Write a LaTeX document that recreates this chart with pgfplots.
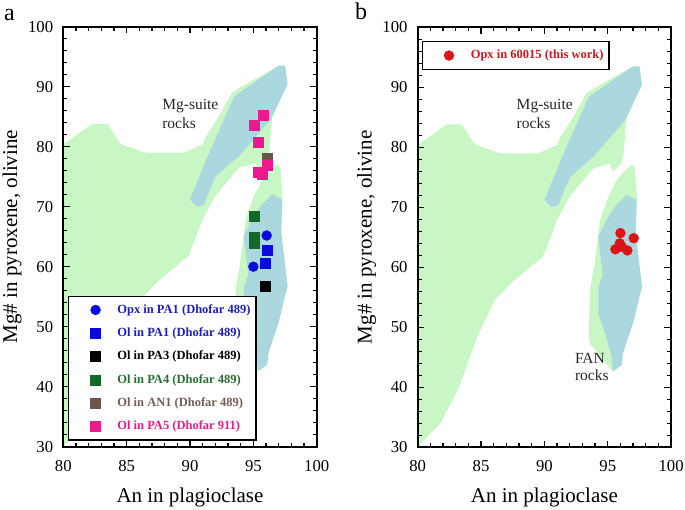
\documentclass[border=0pt]{standalone}
\usepackage{fontspec}
\setmainfont{Liberation Serif}
\usepackage{pgfplots}
\usepackage{pgfplotstable}
\pgfplotsset{compat=1.18}

\definecolor{regG}{RGB}{200,246,196}
\definecolor{regB}{RGB}{170,216,222}
\definecolor{cblue}{RGB}{10,10,220}
\definecolor{cgreen}{RGB}{20,105,40}
\definecolor{cbrown}{RGB}{110,85,75}
\definecolor{cpink}{RGB}{238,25,140}
\definecolor{cred}{RGB}{220,20,25}
\definecolor{tblue}{RGB}{30,30,180}
\definecolor{tgreen}{RGB}{40,110,50}
\definecolor{tbrown}{RGB}{115,95,85}
\definecolor{tpink}{RGB}{225,30,140}
\definecolor{tred}{RGB}{200,25,30}
\definecolor{ctext}{RGB}{38,38,38}

% large green field
\pgfplotstableread{
x y
80 30
80 80.4
82.3 83.8
83.5 83.8
84.5 80.5
86.5 79.0
89.5 79.0
91.0 80.4
91.2 81.5
92.3 85.1
93.3 89.0
93.9 89.8
97.0 93.5
97.5 93.5
97.7 90.4
96.5 85.0
96.4 83.0
96.25 78.7
96.1 77.3
95.4 75.9
95.18 77.3
94.4 76.8
93.86 76.5
92.0 71.8
91.0 67.9
89.9 61.8
87.5 57.6
86.1 54.6
84.7 48.4
83.3 40.2
81.8 34.0
80.4 31.0
80 30
}\regGa

% green field around FAN
\pgfplotstableread{
x y
96.9 77.05
97.15 76.5
97.3 71.8
97.2 65.0
97.7 56.8
96.2 45.7
95.4 42.6
93.6 47.3
93.5 47.9
93.6 56.2
94.0 61.2
94.4 67.9
95.05 71.8
95.7 74.5
96.36 76.2
96.9 77.05
}\regGb

% blue Mg-suite field
\pgfplotstableread{
x y
90.0 71.2
90.6 70.0
91.1 70.4
92.0 75.0
93.9 78.5
95.7 82.9
96.4 84.6
97.7 90.4
97.5 93.5
97.0 93.5
93.5 88.4
92.8 85.1
91.4 78.4
90.0 71.2
}\regBa

% blue FAN field
\pgfplotstableread{
x y
96.5 72.05
97.28 71.2
97.2 65.7
97.7 56.8
97.0 50.7
96.2 45.7
96.1 43.7
95.4 42.6
95.3 45.1
94.8 49.0
94.25 52.3
94.25 56.5
94.6 58.8
94.25 65.1
94.9 67.9
95.57 70.1
96.5 72.05
}\regBb

\tikzset{
  leg/.style={draw=black, line width=1.2bp, fill=white,
    inner xsep=1.5bp, inner ysep=2bp, row sep=0pt,
    nodes={inner xsep=4bp, inner ysep=5bp, text height=10bp, text depth=3.3bp},
    font=\fontsize{12.5bp}{15bp}\selectfont\bfseries},
  lbl/.style={anchor=base west, inner sep=0pt, text=ctext, font=\fontsize{15.5bp}{18bp}\selectfont},
}

\pgfplotsset{
  panel/.style={
    scale only axis, width=253.4bp, height=420bp,
    xmin=80, xmax=100, ymin=30, ymax=100,
    enlargelimits=false,
    xtick={80,85,...,100}, ytick={30,40,...,100},
    minor x tick num=4, minor y tick num=4,
    tick align=inside,
    major tick length=6.7bp, minor tick length=4bp,
    every tick/.style={black, line width=1.4bp},
    axis line style={line width=1.8bp},
    axis on top,
    /pgf/number format/assume math mode=true,
    tick label style={font=\fontsize{16.7bp}{20bp}\selectfont},
    xticklabel style={anchor=base, yshift=-24.3bp},
    yticklabel style={anchor=east, inner sep=0pt, xshift=-10bp},
    label style={font=\fontsize{21bp}{25bp}\selectfont},
    xlabel={An in plagioclase},
    ylabel={Mg\# in pyroxene, olivine},
    xlabel style={at={(axis description cs:0.5,-0.1317)}, anchor=base},
    ylabel style={at={(axis description cs:-0.182,0.5)}, anchor=base},
    legend cell align=left,
  },
  limg/.style={legend image code/.code={\path[draw=none,fill=none] (0bp,-5bp) (43bp,5bp); \draw[##1] plot coordinates {(25.2bp,0bp)};}},
  sq/.style={only marks, mark=square*, mark size=5bp, line width=0.3bp, limg},
  ci/.style={only marks, mark=*, mark size=5bp, line width=0.3bp, limg},
}

\begin{document}
\begin{tikzpicture}
\useasboundingbox (0,0) rectangle (685bp,510bp);

% ---------------- panel a ----------------
\begin{axis}[panel, at={(63.3bp,63.3bp)}, anchor=south west,
  legend style={leg, at={(axis description cs:0.0197,0.0143)}, anchor=south west}]
\addplot[fill=regG, draw=none, forget plot] table {\regGa};
\addplot[fill=regG, draw=none, forget plot] table {\regGb};
\addplot[fill=regB, draw=none, forget plot] table {\regBa};
\addplot[fill=regB, draw=none, forget plot] table {\regBb};

\addplot[ci, color=cblue] coordinates {(96.05,65.2) (95.0,60.0)};
\addlegendentry{\textcolor{tblue}{Opx in PA1 (Dhofar 489)}}
\addplot[sq, color=cblue] coordinates {(96.05,62.7) (95.9,60.6)};
\addlegendentry{\textcolor{tblue}{Ol in PA1 (Dhofar 489)}}
\addplot[sq, color=black] coordinates {(95.9,56.7)};
\addlegendentry{\textcolor{black}{Ol in PA3 (Dhofar 489)}}
\addplot[sq, color=cgreen] coordinates {(95.1,68.45) (95.1,65.0) (95.1,63.9)};
\addlegendentry{\textcolor{tgreen}{Ol in PA4 (Dhofar 489)}}
\addplot[sq, color=cbrown] coordinates {(96.05,78.1)};
\addlegendentry{\textcolor{tbrown}{Ol in AN1 (Dhofar 489)}}
\addplot[sq, color=cpink] coordinates {(95.8,85.3) (95.1,83.6) (95.4,80.7) (96.05,77.0) (95.4,75.8) (95.7,75.4)};
\addlegendentry{\textcolor{tpink}{Ol in PA5 (Dhofar 911)}}

\node[lbl] at (axis cs:87.8,86.25) {Mg-suite};
\node[lbl] at (axis cs:87.8,83.1) {rocks};
\end{axis}

% ---------------- panel b ----------------
\begin{axis}[panel, at={(417.7bp,62.7bp)}, anchor=south west,
  legend style={leg, at={(axis description cs:0.0158,0.9667)}, anchor=north west}]
\addplot[fill=regG, draw=none, forget plot] table {\regGa};
\addplot[fill=regG, draw=none, forget plot] table {\regGb};
\addplot[fill=regB, draw=none, forget plot] table {\regBa};
\addplot[fill=regB, draw=none, forget plot] table {\regBb};

\addplot[ci, color=cred] coordinates {(96.0,65.7) (97.05,64.85) (95.95,64.0) (95.6,63.0) (96.55,62.8) (96.1,63.4)};
\addlegendentry{\textcolor{tred}{Opx in 60015 (this work)}}

\node[lbl] at (axis cs:87.8,86.25) {Mg-suite};
\node[lbl] at (axis cs:87.8,83.1) {rocks};
\node[lbl] at (axis cs:92.4,44.0) {FAN};
\node[lbl] at (axis cs:92.4,41.2) {rocks};
\end{axis}

\node[anchor=base west, inner sep=0pt, font=\fontsize{24bp}{28bp}\selectfont] at (4bp,489.3bp) {a};
\node[anchor=base west, inner sep=0pt, font=\fontsize{24bp}{28bp}\selectfont] at (355bp,490bp) {b};
\end{tikzpicture}
\end{document}
